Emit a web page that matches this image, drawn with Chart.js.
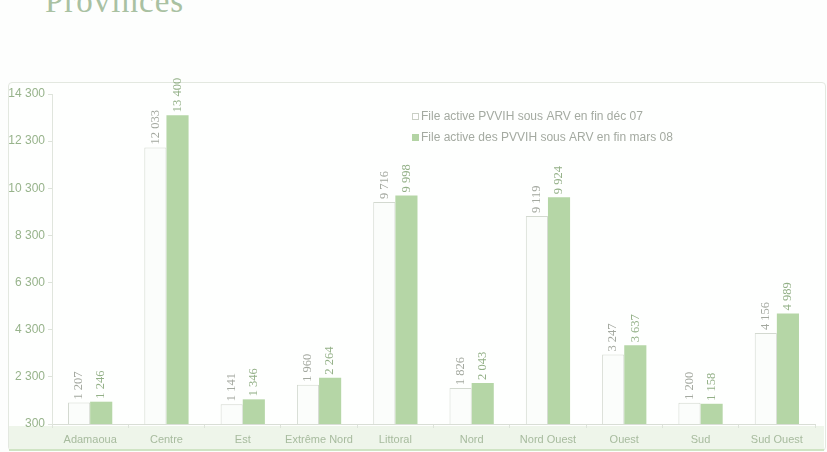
<!DOCTYPE html>
<html><head><meta charset="utf-8">
<script src="https://cdn.jsdelivr.net/npm/chart.js@4"></script>
<style>
html,body{margin:0;padding:0;background:#fdfefd;width:827px;height:452px;overflow:hidden;position:relative;font-family:"Liberation Sans",Arial,sans-serif;}
#title{position:absolute;left:45px;top:-15px;font-family:"Liberation Serif",serif;font-size:33px;line-height:33px;color:#a9c1a2;letter-spacing:1px;}
#frame{position:absolute;left:8px;top:82px;width:816px;height:367px;border:1px solid #e3e8e0;border-radius:4px;background:#fefffe;}
#band{position:absolute;left:9px;top:426px;width:815px;height:23px;background:#eef5ea;border-bottom:2px solid #cfe4c4;}
#wrap{position:absolute;left:0;top:0;width:827px;height:452px;}
</style></head>
<body>
<div id="title">Provinces</div>
<div id="frame"></div>
<div id="band"></div>
<div id="wrap"><canvas id="c" width="827" height="452"></canvas></div>
<script>
const categories = ["Adamaoua","Centre","Est","Extrême Nord","Littoral","Nord","Nord Ouest","Ouest","Sud","Sud Ouest"];
const seriesDec07 = [1207,12033,1141,1960,9716,1826,9119,3247,1200,4156];
const seriesMar08 = [1246,13400,1346,2264,9998,2043,9924,3637,1158,4989];
const seriesNames = ["File active PVVIH sous ARV en fin déc 07","File active des PVVIH sous ARV en fin mars 08"];
const yTicks = [300,2300,4300,6300,8300,10300,12300,14300];

const fmt = v => String(v).replace(/\B(?=(\d{3})+(?!\d))/g, " ");

const labelPlugin = {
  id:'vlabels',
  afterDatasetsDraw(chart){
    const ctx = chart.ctx;
    ctx.save();
    ctx.font = '12.5px "Liberation Serif","Times New Roman",serif';
    chart.data.datasets.forEach((ds,di)=>{
      const meta = chart.getDatasetMeta(di);
      ctx.fillStyle = di===0 ? '#a3a89f' : '#93b087';
      meta.data.forEach((bar,i)=>{
        ctx.save();
        ctx.translate(bar.x, bar.y-3);
        ctx.rotate(-Math.PI/2);
        ctx.textAlign='left';
        ctx.textBaseline='middle';
        ctx.fillText(fmt(ds.data[i]),0,0);
        ctx.restore();
      });
    });
    // legend
    ctx.font = '12px "Liberation Sans",Arial,sans-serif';
    ctx.textBaseline='middle';
    ctx.textAlign='left';
    const lx=412, ly=[117,138];
    ctx.fillStyle='#ffffff'; ctx.strokeStyle='#c9cfc5'; ctx.lineWidth=1;
    ctx.fillRect(lx+0.5,ly[0]-3.5,6,6); ctx.strokeRect(lx+0.5,ly[0]-3.5,6,6);
    ctx.fillStyle='#b3d4a4'; ctx.fillRect(lx,ly[1]-4,7,7);
    ctx.fillStyle='#a4aaa1';
    ctx.fillText(seriesNames[0], lx+9, ly[0]);
    ctx.fillText(seriesNames[1], lx+9, ly[1]);
    ctx.restore();
  }
};

new Chart(document.getElementById('c'),{
  type:'bar',
  data:{
    labels:categories,
    datasets:[
      {label:seriesNames[0],data:seriesDec07,backgroundColor:'#fbfdfb',borderColor:'#d3d9d0',borderWidth:1,borderSkipped:'bottom'},
      {label:seriesNames[1],data:seriesMar08,backgroundColor:'#b5d6a6',borderColor:'#aed0a0',borderWidth:0}
    ]
  },
  options:{
    responsive:false,animation:false,
    layout:{padding:{left:8,right:12,top:94,bottom:6}},
    plugins:{legend:{display:false},tooltip:{enabled:false}},
    datasets:{bar:{categoryPercentage:0.58,barPercentage:1.0}},
    scales:{
      x:{
        grid:{display:true,drawOnChartArea:false,drawTicks:true,tickLength:4,color:'#dde3da',offset:true},
        border:{color:'#d9ded6'},
        ticks:{color:'#a7bb9e',font:{family:'"Liberation Sans",Arial,sans-serif',size:11},padding:5},
        afterFit(s){s.height=22;}
      },
      y:{
        min:300,max:14300,
        afterBuildTicks(s){s.ticks=yTicks.map(v=>({value:v}));},
        grid:{display:true,drawOnChartArea:false,tickLength:4,color:'#dde3da'},
        border:{color:'#e0e5dd'},
        ticks:{color:'#97b38b',font:{family:'"Liberation Sans",Arial,sans-serif',size:12},padding:3,callback:v=>fmt(v)},
        afterFit(s){s.width=44;}
      }
    }
  },
  plugins:[labelPlugin]
});
</script>
</body></html>
